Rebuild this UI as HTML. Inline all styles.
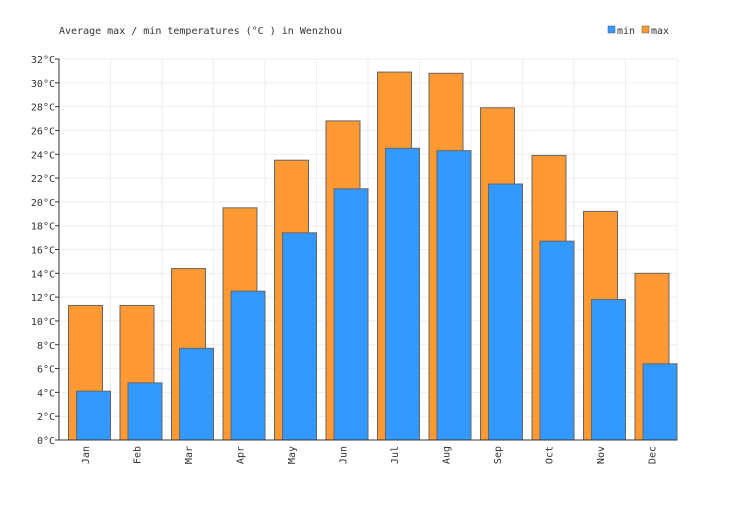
<!DOCTYPE html>
<html><head><meta charset="utf-8"><style>
body{margin:0;background:#fff;}
svg text{font-family:"DejaVu Sans Mono","Liberation Mono",monospace;font-size:10px;fill:#333;}
</style></head><body>
<svg id="c" width="736" height="500">
<text x="59" y="34">Average max / min temperatures (°C ) in Wenzhou</text>
<g>
<rect x="608" y="26" width="7" height="7" fill="#3399ff" stroke="#555" stroke-width="0.5"/>
<text x="617" y="34">min</text>
<rect x="642" y="26" width="7" height="7" fill="#ff9933" stroke="#555" stroke-width="0.5"/>
<text x="651" y="34">max</text>
</g>
<g id="plot"></g>
</svg>
<script>
const categories=["Jan","Feb","Mar","Apr","May","Jun","Jul","Aug","Sep","Oct","Nov","Dec"];
const maxValues=[11.3,11.3,14.4,19.5,23.5,26.8,30.9,30.8,27.9,23.9,19.2,14.0];
const minValues=[4.1,4.8,7.7,12.5,17.4,21.1,24.5,24.3,21.5,16.7,11.8,6.4];
const yTicks=[0,2,4,6,8,10,12,14,16,18,20,22,24,26,28,30,32];
const L=59,R=677,T=59,B=440,yMax=32;
const ns="http://www.w3.org/2000/svg";
const g=document.getElementById('plot');
const bw=(R-L)/categories.length;
function y(v){return B-v/yMax*(B-T);}
function x(i){return L+i*bw;}
function mk(t,a){const e=document.createElementNS(ns,t);for(const k in a)e.setAttribute(k,a[k]);g.appendChild(e);return e;}
yTicks.forEach(v=>{
 const l=mk('line',{x1:L,x2:R,y1:y(v),y2:y(v),stroke:'#eee'});
 
 
 const tk=mk('line',{x1:L-4,x2:L,y1:y(v),y2:y(v),stroke:'#333'});
 
 
 const t=mk('text',{x:L-4,y:y(v)+4,'text-anchor':'end'});
 t.textContent=v+'°C';
 
 
});
categories.forEach((c,i)=>{
 const l=mk('line',{x1:x(i+1),x2:x(i+1),y1:T,y2:B,stroke:'#eee'});
 
 
});
categories.forEach((c,i)=>{
 const a=mk('rect',{x:x(i)+9.5,y:y(maxValues[i]),width:34,height:B-y(maxValues[i]),fill:'#ff9933',stroke:'#666','stroke-width':1});
 
 
 const b=mk('rect',{x:x(i)+17.5,y:y(minValues[i]),width:34,height:B-y(minValues[i]),fill:'#3399ff',stroke:'#666','stroke-width':1});
 
 
 const cx=x(i)+bw/2+4;
 const t=mk('text',{x:0,y:0,'text-anchor':'end',transform:`translate(${cx},446) rotate(-90)`});
 t.textContent=c;
 
 
});
const ax=mk('line',{x1:L,x2:L,y1:T,y2:B,stroke:'#333'});


const bx=mk('line',{x1:L,x2:R,y1:B,y2:B,stroke:'#333'});


</script>
</body></html>
